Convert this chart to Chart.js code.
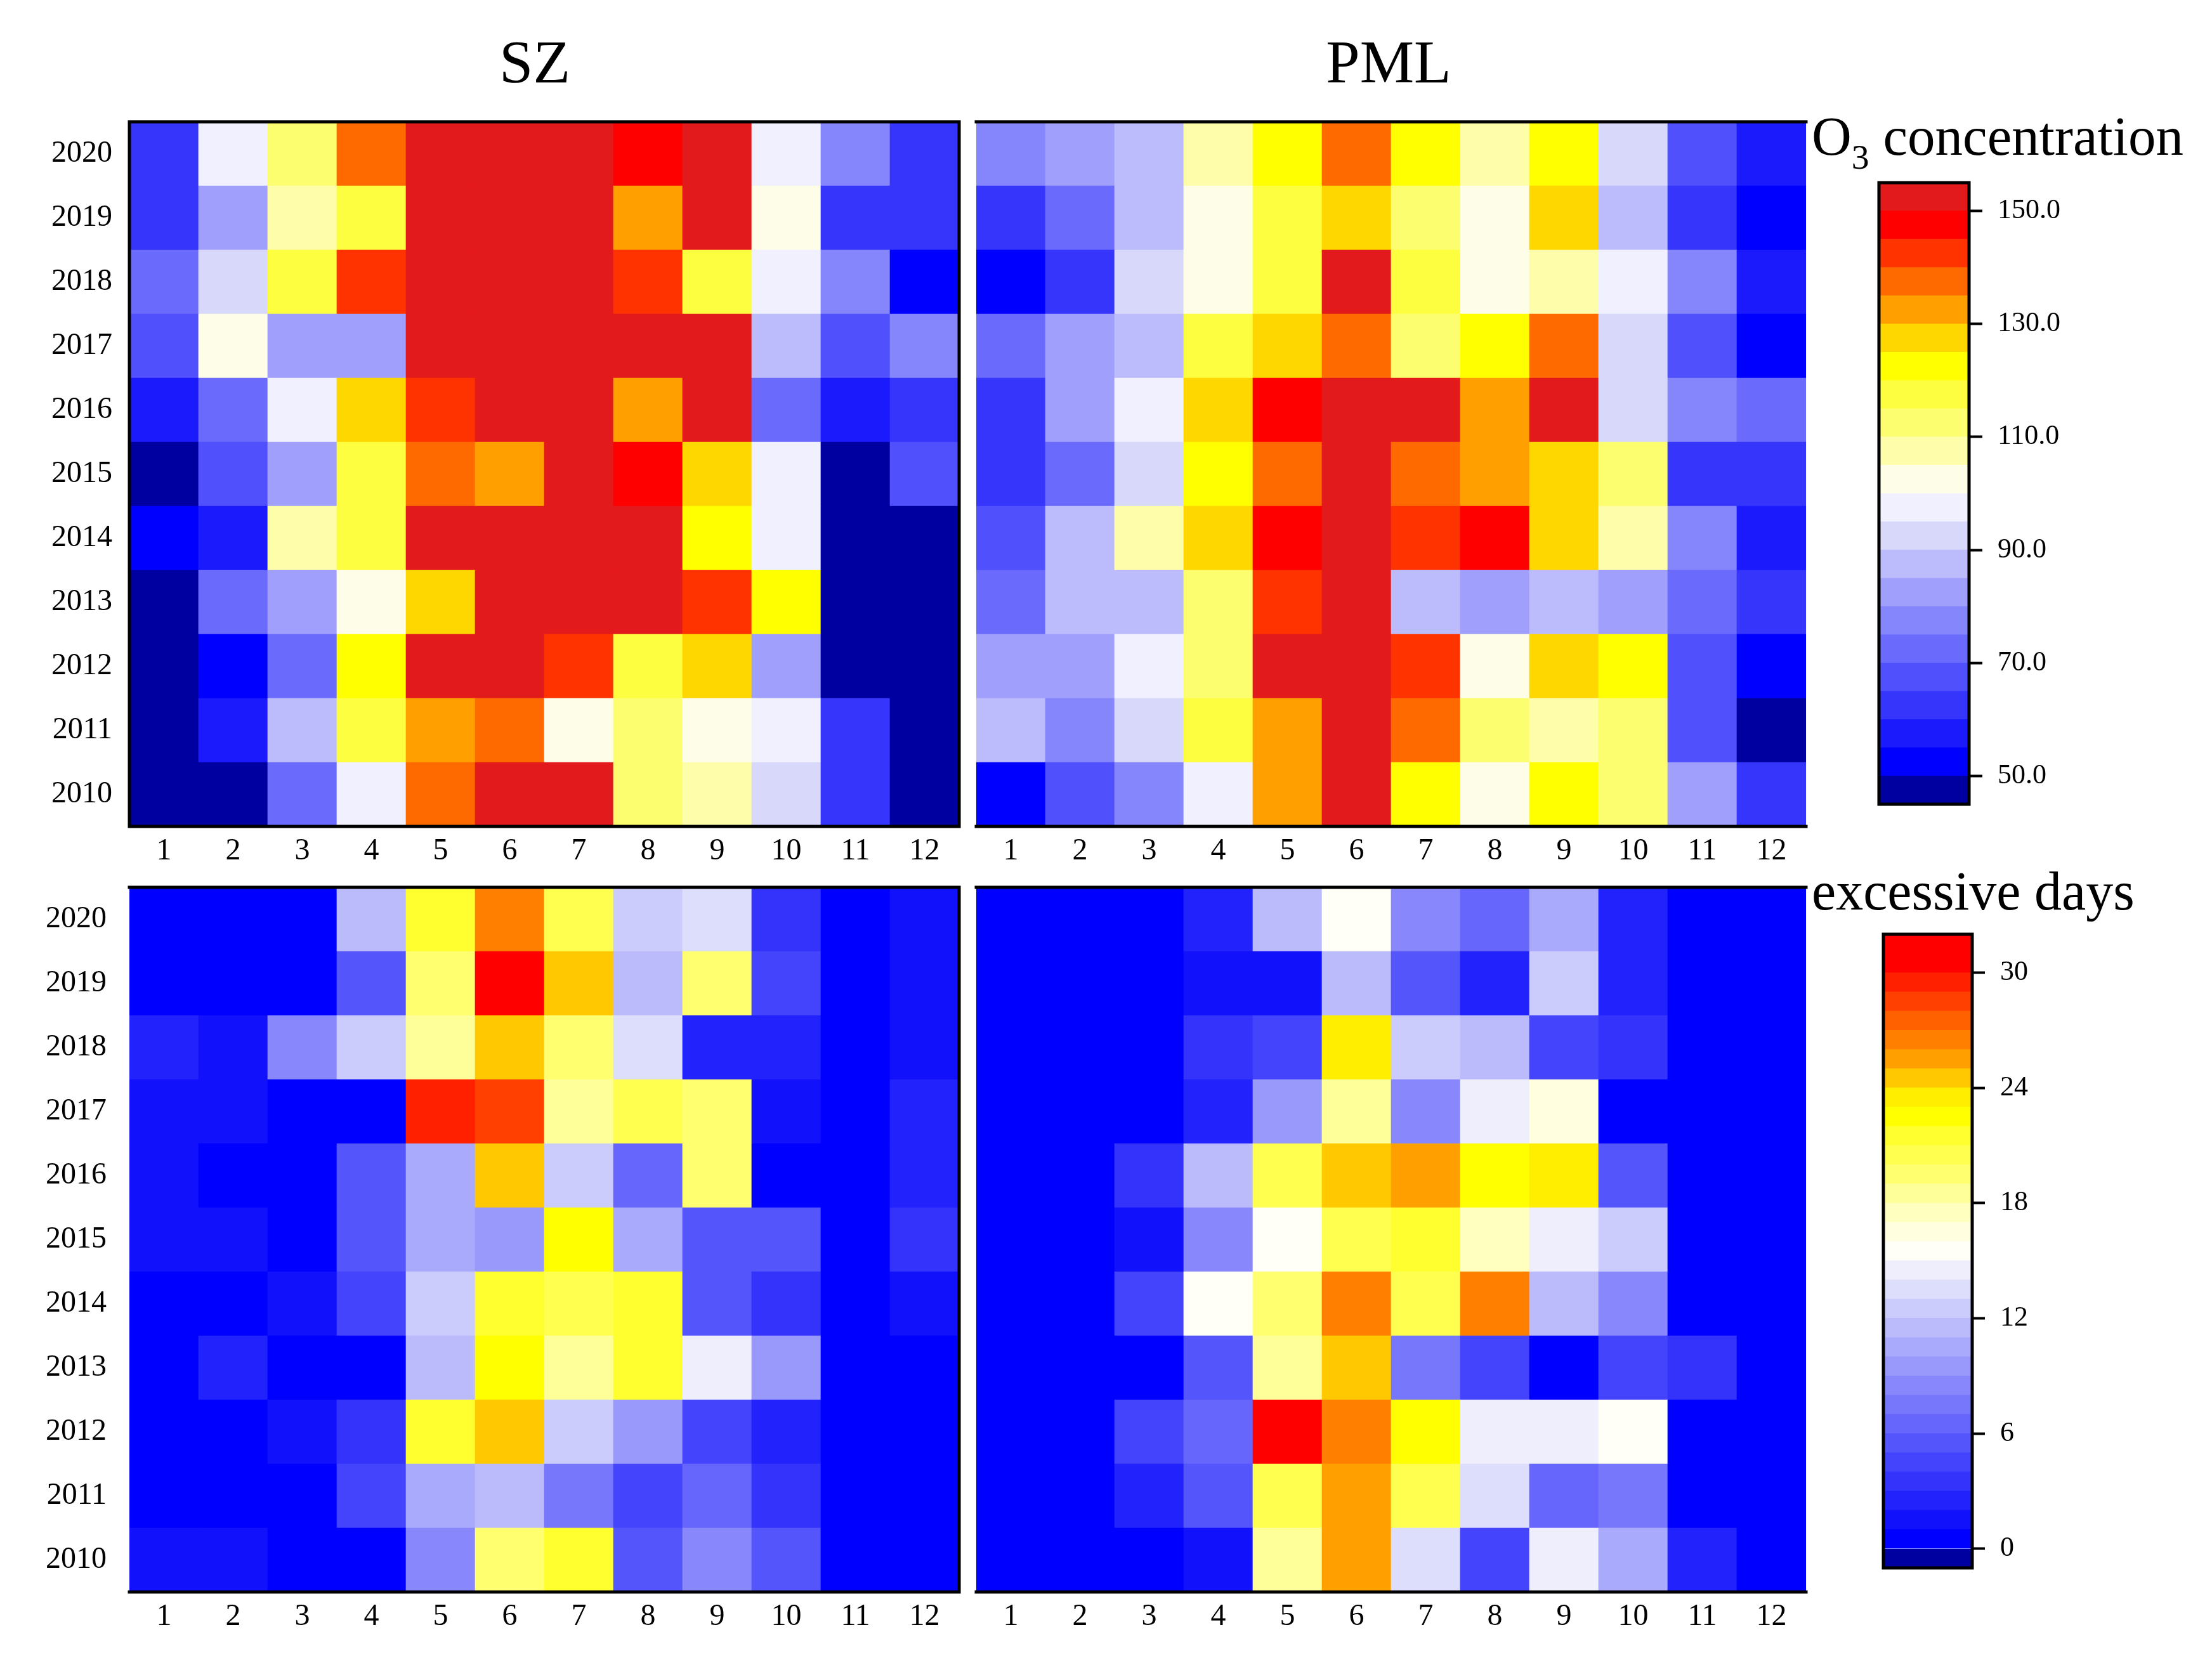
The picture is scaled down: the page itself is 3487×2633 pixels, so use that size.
<!DOCTYPE html>
<html>
<head>
<meta charset="utf-8">
<script src="https://cdn.jsdelivr.net/npm/chart.js@4.4.1/dist/chart.umd.min.js"></script>
<style>
  html, body { margin: 0; padding: 0; background: #fff; }
  #page { position: relative; width: 3487px; height: 2633px; background: #fff; overflow: hidden; }
  #page canvas { position: absolute; }
  .lbl { position: absolute; font-family: "Liberation Serif", serif; color: #000; white-space: nowrap; }
</style>
</head>
<body>
<div id="page">
  <div class="lbl" style="left:643px; top:50px; width:400px; text-align:center; font-size:96px; line-height:96px;">SZ</div>
  <div class="lbl" style="left:1989px; top:50px; width:400px; text-align:center; font-size:96px; line-height:96px;">PML</div>
  <div class="lbl" style="left:2856px; top:171px; font-size:87px; line-height:87px;">O<span style="font-size:0.64em; position:relative; top:22px;">3</span> concentration</div>
  <div class="lbl" style="left:2856px; top:1362px; font-size:86px; line-height:86px;">excessive days</div>

  <canvas id="szO3" width="1518" height="1271" style="left:0px; top:132px;"></canvas>
  <canvas id="pmlO3" width="1320" height="1271" style="left:1533px; top:132px;"></canvas>
  <canvas id="szDays" width="1518" height="1271" style="left:0px; top:1339px;"></canvas>
  <canvas id="pmlDays" width="1320" height="1271" style="left:1533px; top:1339px;"></canvas>
  <canvas id="o3Bar" width="350" height="1100" style="left:2954px; top:228px;"></canvas>
  <canvas id="daysBar" width="348" height="1119" style="left:2961px; top:1413px;"></canvas>
</div>
<script>
// rows run from 2020 (top) down to 2010 (bottom), columns are months 1..12
const years = [2020, 2019, 2018, 2017, 2016, 2015, 2014, 2013, 2012, 2011, 2010];
const months = ["1", "2", "3", "4", "5", "6", "7", "8", "9", "10", "11", "12"];

// O3 concentration, SZ
const szO3 = [
  [63, 98, 113, 138, 162, 171, 168, 148, 156, 98, 78, 63],
  [62, 83, 108, 118, 160, 166, 158, 133, 157, 103, 63, 64],
  [73, 93, 117, 143, 158, 165, 161, 142, 118, 97, 79, 53],
  [68, 102, 83, 84, 157, 169, 166, 155, 152, 88, 68, 78],
  [58, 73, 98, 128, 144, 159, 163, 133, 154, 73, 57, 63],
  [47, 68, 83, 118, 138, 133, 156, 148, 127, 98, 46, 68],
  [53, 58, 108, 118, 157, 164, 161, 153, 123, 98, 47, 47],
  [47, 73, 83, 103, 128, 158, 162, 154, 143, 123, 47, 46],
  [46, 53, 73, 123, 151, 153, 143, 118, 128, 83, 47, 47],
  [47, 58, 88, 118, 133, 138, 103, 113, 103, 98, 63, 47],
  [46, 47, 73, 98, 138, 156, 152, 113, 108, 93, 63, 47]
];

// O3 concentration, PML
const pmlO3 = [
  [78, 83, 88, 108, 123, 138, 123, 108, 123, 93, 68, 58],
  [63, 73, 88, 103, 118, 128, 113, 103, 128, 88, 63, 53],
  [53, 63, 93, 103, 118, 152, 118, 103, 108, 98, 78, 58],
  [73, 83, 88, 118, 128, 138, 113, 123, 138, 93, 68, 53],
  [63, 83, 98, 128, 148, 158, 151, 133, 151, 93, 78, 73],
  [63, 73, 93, 123, 138, 156, 138, 133, 128, 113, 63, 63],
  [68, 88, 108, 128, 148, 157, 143, 148, 128, 108, 78, 58],
  [73, 88, 88, 113, 143, 161, 88, 83, 88, 83, 73, 63],
  [83, 83, 98, 113, 152, 160, 143, 100.5, 128, 123, 68, 53],
  [88, 78, 93, 118, 133, 159, 138, 113, 108, 113, 68, 47],
  [53, 68, 78, 98, 133, 157, 123, 100.5, 123, 113, 83, 63]
];

// O3 excessive days, SZ
const szDays = [
  [0, 0, 0, 11, 21, 26, 20, 12, 13, 3, 0, 1],
  [0, 0, 0, 5, 19, 31, 24, 11, 19, 4, 0, 1],
  [2, 1, 8, 12, 18, 24, 19, 13, 2, 2, 0, 1],
  [1, 1, 0, 0, 29, 28, 18, 20, 19, 1, 0, 2],
  [1, 0, 0, 5, 10, 24, 12, 6, 19, 0, 0, 2],
  [1, 1, 0, 5, 10, 9, 22, 10, 5, 5, 0, 3],
  [0, 0, 1, 4, 12, 21, 20, 21, 5, 3, 0, 1],
  [0, 2, 0, 0, 11, 22, 18, 21, 14, 9, 0, 0],
  [0, 0, 1, 3, 21, 24, 12, 9, 4, 2, 0, 0],
  [0, 0, 0, 4, 10, 11, 7, 4, 6, 3, 0, 0],
  [1, 1, 0, 0, 8, 19, 21, 5, 8, 5, 0, 0]
];

// O3 excessive days, PML
const pmlDays = [
  [0, 0, 0, 2, 11, 15, 8, 6, 10, 2, 0, 0],
  [0, 0, 0, 1, 1, 11, 5, 2, 12, 2, 0, 0],
  [0, 0, 0, 3, 4, 23, 12, 11, 4, 3, 0, 0],
  [0, 0, 0, 2, 9, 18, 8, 14, 16, 0, 0, 0],
  [0, 0, 3, 11, 20, 24, 25, 22, 23, 5, 0, 0],
  [0, 0, 1, 8, 15, 20, 21, 17, 14, 12, 0, 0],
  [0, 0, 4, 15, 19, 26, 20, 26, 11, 8, 0, 0],
  [0, 0, 0, 5, 18, 24, 7, 4, 0, 4, 3, 0],
  [0, 0, 4, 6, 31, 26, 22, 14, 14, 15, 0, 0],
  [0, 0, 2, 5, 20, 25, 20, 13, 6, 7, 0, 0],
  [0, 0, 0, 1, 18, 25, 13, 4, 14, 10, 2, 0]
];

// colour levels of the two colour bars and their tick labels
const o3Levels = [45, 50, 55, 60, 65, 70, 75, 80, 85, 90, 95, 100, 105, 110, 115, 120, 125, 130, 135, 140, 145, 150, 155];
const o3Ticks = [50, 70, 90, 110, 130, 150];
const dayLevels = [-1, 0, 1, 2, 3, 4, 5, 6, 7, 8, 9, 10, 11, 12, 13, 14, 15, 16, 17, 18, 19, 20, 21, 22, 23, 24, 25, 26, 27, 28, 29, 30, 32];
const dayTicks = [0, 6, 12, 18, 24, 30];

const o3Colors = [
  "#0000a0", "#0000ff", "#1a1afc", "#3535fc", "#5050fc", "#6a6afc", "#8585fc", "#a0a0fc",
  "#bcbcfc", "#d8d8fa", "#f0f0fe", "#fefee8", "#fefeaa", "#fdfd70", "#fefe40", "#ffff00",
  "#ffd700", "#ffa000", "#ff6a00", "#ff3300", "#ff0000", "#e31a1c"
];
const dayColors = [
  "#0000a0", "#0000ff", "#1111fc", "#2222fc", "#3333fc", "#4444fc", "#5555fc", "#6666fc",
  "#7777fc", "#8888fc", "#9999fc", "#aaaafc", "#bbbbfc", "#ccccfc", "#ddddfc", "#eeeefc",
  "#fffff8", "#ffffe0", "#ffffc0", "#ffff99", "#ffff70", "#ffff50", "#ffff30", "#ffff00",
  "#ffee00", "#ffc800", "#ffa000", "#ff8000", "#ff6000", "#ff4000", "#ff2000", "#ff0000"
];

const FONT = "'Liberation Serif', serif";
Chart.defaults.font.family = FONT;
Chart.defaults.color = "#000";

function colorFor(v, levels, colors) {
  let i = 0;
  while (i < colors.length - 1 && v >= levels[i + 1]) i++;
  return colors[i];
}

// black frame round the plot area, sides chosen per chart
const framePlugin = {
  id: "frame",
  afterDraw(chart, args, opts) {
    const { ctx, chartArea: a } = chart;
    ctx.save();
    ctx.strokeStyle = "#000";
    ctx.lineWidth = opts.width || 5;
    ctx.lineCap = "square";
    ctx.beginPath();
    if (opts.top) { ctx.moveTo(a.left, a.top); ctx.lineTo(a.right, a.top); }
    if (opts.bottom) { ctx.moveTo(a.left, a.bottom); ctx.lineTo(a.right, a.bottom); }
    if (opts.left) { ctx.moveTo(a.left, a.top); ctx.lineTo(a.left, a.bottom); }
    if (opts.right) { ctx.moveTo(a.right, a.top); ctx.lineTo(a.right, a.bottom); }
    ctx.stroke();
    ctx.restore();
  },
};

function heatmap(id, values, levels, colors, showYears, yPad, frame) {
  // stacked bars: one dataset per year, 2010 at the bottom
  const rowOrder = years.map((y, k) => k).reverse();
  const datasets = rowOrder.map((k) => ({
    label: String(years[k]),
    data: months.map(() => 1),
    backgroundColor: values[k].map((v) => colorFor(v, levels, colors)),
    borderWidth: 0,
    barPercentage: 1,
    categoryPercentage: 1,
  }));
  return new Chart(document.getElementById(id), {
    type: "bar",
    data: { labels: months, datasets: datasets },
    options: {
      responsive: false,
      animation: false,
      devicePixelRatio: 1,
      events: [],
      layout: { padding: { top: 60, right: 6, bottom: 0, left: showYears ? 0 : 6 } },
      plugins: { legend: { display: false }, tooltip: { enabled: false }, frame: frame },
      scales: {
        x: {
          stacked: true,
          grid: { display: false },
          border: { display: false },
          ticks: { font: { size: 48 }, padding: 3, maxRotation: 0, autoSkip: false },
          afterFit: (s) => { s.height = 100; },
        },
        y: {
          stacked: true,
          display: showYears,
          min: 0,
          max: years.length,
          grid: { display: false },
          border: { display: false },
          afterBuildTicks: (s) => { s.ticks = years.map((y, i) => ({ value: i + 0.5 })); },
          ticks: {
            font: { size: 48 },
            padding: yPad,
            callback: (v) => String(years[years.length - 1 - Math.floor(v)]),
          },
          afterFit: (s) => { s.width = showYears ? 204 : 0; },
        },
      },
    },
    plugins: [framePlugin],
  });
}

function colorBar(id, levels, colors, ticks, fmt, tickLen) {
  const datasets = colors.map((c, i) => ({
    data: [[levels[i], levels[i + 1]]],
    backgroundColor: c,
    borderWidth: 0,
    grouped: false,
    barPercentage: 1,
    categoryPercentage: 1,
  }));
  return new Chart(document.getElementById(id), {
    type: "bar",
    data: { labels: [""], datasets: datasets },
    options: {
      responsive: false,
      animation: false,
      devicePixelRatio: 1,
      events: [],
      layout: { padding: { top: 60, right: 0, bottom: 60, left: 8 } },
      plugins: {
        legend: { display: false },
        tooltip: { enabled: false },
        frame: { top: true, bottom: true, left: true, right: true },
      },
      scales: {
        x: { display: false },
        y: {
          position: "right",
          min: levels[0],
          max: levels[levels.length - 1],
          border: { display: false },
          grid: { drawOnChartArea: false, drawTicks: true, tickLength: tickLen, tickWidth: 4, tickColor: "#000" },
          afterBuildTicks: (s) => { s.ticks = ticks.map((t) => ({ value: t })); },
          ticks: { font: { size: 44 }, padding: 24, callback: fmt },
          afterFit: (s) => { s.width = 200; },
        },
      },
    },
    plugins: [framePlugin],
  });
}

heatmap("szO3", szO3, o3Levels, o3Colors, true, 19, { top: true, bottom: true, left: true, right: true });
heatmap("pmlO3", pmlO3, o3Levels, o3Colors, false, 0, { top: true, bottom: true });
heatmap("szDays", szDays, dayLevels, dayColors, true, 28, { top: true, bottom: true, right: true });
heatmap("pmlDays", pmlDays, dayLevels, dayColors, false, 0, { top: true, bottom: true });

colorBar("o3Bar", o3Levels, o3Colors, o3Ticks, (v) => Number(v).toFixed(1), 21);
colorBar("daysBar", dayLevels, dayColors, dayTicks, (v) => String(v), 20);
</script>
</body>
</html>
